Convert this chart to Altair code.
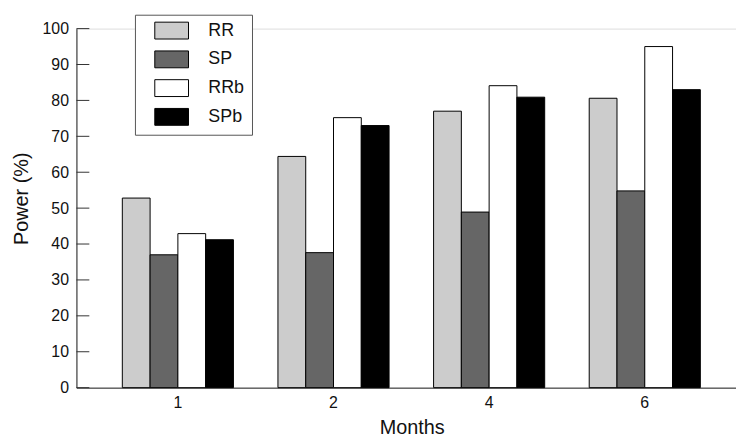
import altair as alt
import pandas as pd

months = ["1", "2", "4", "6"]
series = ["RR", "SP", "RRb", "SPb"]
rr = [52.8, 64.4, 77.0, 80.6]
sp = [37.0, 37.6, 48.9, 54.8]
rrb = [42.9, 75.2, 84.1, 95.0]
spb = [41.2, 73.0, 80.9, 83.0]
colors = ["#cccccc", "#666666", "#ffffff", "#000000"]
y_ticks = [0, 10, 20, 30, 40, 50, 60, 70, 80, 90, 100]

rows = []
for name, vals in zip(series, [rr, sp, rrb, spb]):
    for m, v in zip(months, vals):
        rows.append({"Months": m, "Series": name, "Power": v})
df = pd.DataFrame(rows)

FONT = "Liberation Sans"
NBSP = "\u00a0"


def y_axis():
    return alt.Axis(
        title="Power (%)",
        values=y_ticks,
        labelOverlap=False,
        ticks=False,
        tickSize=0,
        grid=False,
        labelPadding=8,
        labelFontSize=16,
        titleFontSize=20,
        titleFontWeight="normal",
        titleX=-45,
        titleY=171,
        titleAngle=270,
        titleBaseline="bottom",
        domainColor="#222",
        domainWidth=1,
    )


y_scale = alt.Scale(domain=[0, 100], nice=False)

bars = alt.Chart(df).mark_bar(stroke="black", strokeWidth=1).encode(
    x=alt.X(
        "Months:N",
        sort=months,
        scale=alt.Scale(paddingInner=0.286, paddingOuter=0.262, align=0.5626),
        axis=alt.Axis(
            title="Months",
            labelAngle=0,
            ticks=False,
            tickSize=0,
            labelPadding=7,
            labelFontSize=16,
            titleFontSize=20,
            titleFontWeight="normal",
            titleX=338,
            titleY=46,
            titleBaseline="alphabetic",
            domainColor="#222",
            domainWidth=1,
        ),
    ),
    xOffset=alt.XOffset("Series:N", sort=series, scale=alt.Scale(paddingInner=0, paddingOuter=0)),
    y=alt.Y("Power:Q", scale=y_scale, axis=y_axis()),
    color=alt.Color(
        "Series:N",
        sort=series,
        scale=alt.Scale(domain=series, range=colors),
        legend=alt.Legend(
            title=None,
            orient="none",
            legendX=59,
            legendY=-14,
            padding=7,
            symbolType="M-2,-1H2V1H-2Z",
            symbolSize=289,
            symbolOffset=21,
            labelOffset=28,
            rowPadding=7,
            symbolStrokeColor="black",
            symbolStrokeWidth=1,
            symbolOpacity=1,
            labelFontSize=18,
            labelExpr="datum.label + '" + NBSP * 3 + "'",
            strokeColor="#555",
            fillColor="white",
        ),
    ),
)

ticks = alt.Chart(pd.DataFrame({"Power": y_ticks})).mark_rule(color="#333", strokeWidth=1).encode(
    y=alt.Y("Power:Q", scale=y_scale, axis=y_axis()),
    x=alt.value(0),
    x2=alt.value(13),
)

chart = (
    alt.layer(bars, ticks)
    .properties(
        width=665,
        height=362,
        padding={"left": 69, "top": 19, "right": 0, "bottom": 50},
        autosize=alt.AutoSizeParams(type="none"),
    )
    .configure_view(stroke=None)
    .configure(font=FONT)
    .configure_axis(labelFont=FONT, titleFont=FONT, labelColor="#111", titleColor="#111")
    .configure_legend(labelFont=FONT, labelColor="#111")
)

chart.save("out.html", embed_options={"renderer": "svg", "actions": False})
